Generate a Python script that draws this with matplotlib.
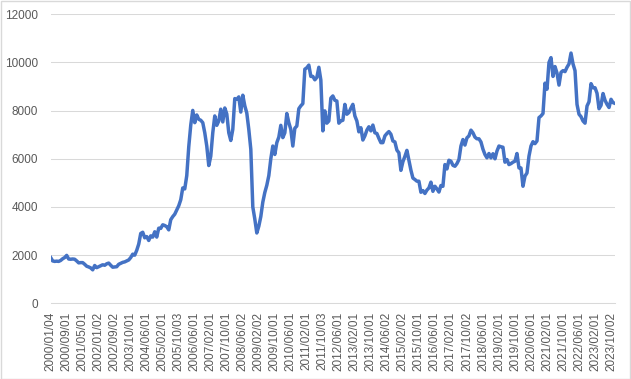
import matplotlib.pyplot as plt
from matplotlib.patches import Rectangle

plt.rcParams['font.family'] = ['Liberation Sans', 'DejaVu Sans']

# monthly values (2000/01 .. 2023/12, a few 2002-2003 months missing)
values = [
    1900, 1760, 1740, 1750, 1740, 1780, 1850, 1900, 1990, 1840,
    1830, 1840, 1830, 1760, 1680, 1690, 1690, 1620, 1540, 1510,
    1470, 1390, 1570, 1480, 1520, 1560, 1600, 1580, 1640, 1670,
    1580, 1500, 1510, 1520, 1620, 1660, 1700, 1720, 1760, 1800,
    1900, 2040, 2000, 2200, 2460, 2900, 2950, 2720, 2770, 2610,
    2800, 2750, 2970, 2750, 3120, 3110, 3260, 3230, 3180, 3050,
    3470, 3600, 3700, 3880, 4050, 4300, 4790, 4750, 5300, 6500,
    7400, 8010, 7500, 7820, 7640, 7600, 7500, 7080, 6530, 5720,
    6110, 7080, 7780, 7390, 7570, 8060, 7530, 8110, 7860, 7080,
    6760, 7220, 8500, 8470, 8570, 7940, 8640, 8200, 7900, 7220,
    6400, 4000, 3500, 2920, 3200, 3600, 4200, 4600, 4900, 5300,
    6000, 6530, 6180, 6670, 6900, 7390, 6880, 7080, 7880, 7500,
    7220, 6530, 7270, 7360, 8080, 8200, 8290, 9720, 9780, 9890,
    9420, 9420, 9280, 9380, 9800, 9270, 7160, 7990, 7480, 7570,
    8520, 8610, 8430, 8400, 7480, 7570, 7600, 8260, 7850, 7920,
    8100, 8260, 7780, 7570, 7120, 7290, 6780, 6950, 7190, 7330,
    7160, 7400, 7080, 7050, 6850, 6670, 6670, 6950, 7050, 7130,
    7020, 6740, 6700, 6360, 6250, 5520, 5880, 6100, 6350, 5930,
    5530, 5200, 5140, 5070, 5070, 4610, 4680, 4560, 4700, 4790,
    5030, 4650, 4860, 4750, 4620, 4890, 4860, 5760, 5580, 5940,
    5900, 5730, 5690, 5800, 5970, 6530, 6800, 6570, 6870, 6950,
    7190, 7080, 6900, 6830, 6830, 6700, 6400, 6180, 6040, 6220,
    6040, 6210, 6000, 6320, 6530, 6500, 6480, 5860, 5970, 5760,
    5800, 5860, 5900, 6220, 5620, 5620, 4860, 5280, 5410, 6110,
    6530, 6710, 6630, 6740, 7710, 7780, 7880, 9140, 8890, 10000,
    10200, 9420, 9830, 9560, 9060, 9590, 9660, 9620, 9800, 9940,
    10390, 9940, 9660, 8260, 7850, 7750, 7570, 7480, 8190, 8370,
    9120, 8950, 8950, 8720, 8080, 8220, 8710, 8430, 8260, 8130,
    8470, 8330, 8300,
]

tick_labels = [
    '2000/01/04', '2000/09/01', '2001/05/01', '2002/01/02', '2002/09/02',
    '2003/10/01', '2004/06/01', '2005/02/01', '2005/10/03', '2006/06/01',
    '2007/02/01', '2007/10/01', '2008/06/02', '2009/02/02', '2009/10/01',
    '2010/06/01', '2011/02/01', '2011/10/03', '2012/06/01', '2013/02/01',
    '2013/10/01', '2014/06/02', '2015/02/02', '2015/10/01', '2016/06/01',
    '2017/02/01', '2017/10/02', '2018/06/01', '2019/02/01', '2019/10/01',
    '2020/06/01', '2021/02/01', '2021/10/01', '2022/06/01', '2023/02/01',
    '2023/10/02',
]

fig = plt.figure(figsize=(6.31, 3.79), dpi=100)
ax = fig.add_axes([0.0803, 0.1997, 0.8944, 0.7626])

x = list(range(len(values)))
ax.plot(x, values, color='#4472C4', linewidth=2.5, solid_joinstyle='round', zorder=3)

ax.set_xlim(0, len(values) - 1)
ax.set_ylim(0, 12000)
ax.set_yticks(range(0, 12001, 2000))
ax.set_xticks(range(0, 8 * len(tick_labels), 8))
ax.set_xticklabels(tick_labels, rotation=90)

ax.grid(axis='y', color='#d9d9d9', linewidth=0.75)
ax.set_axisbelow(True)
for side in ['top', 'right', 'left']:
    ax.spines[side].set_visible(False)
ax.spines['bottom'].set_color('#d9d9d9')
ax.spines['bottom'].set_linewidth(0.75)

ax.tick_params(axis='both', length=0, labelsize=8.5, labelcolor='#595959')
ax.tick_params(axis='y', pad=9)
ax.tick_params(axis='x', pad=6)

# chart area border
fig.patches.append(Rectangle((0.001, 0.001), 0.997, 0.997, transform=fig.transFigure,
                             fill=False, edgecolor='#d9d9d9', linewidth=1))

fig.savefig('out.png', dpi=100)
